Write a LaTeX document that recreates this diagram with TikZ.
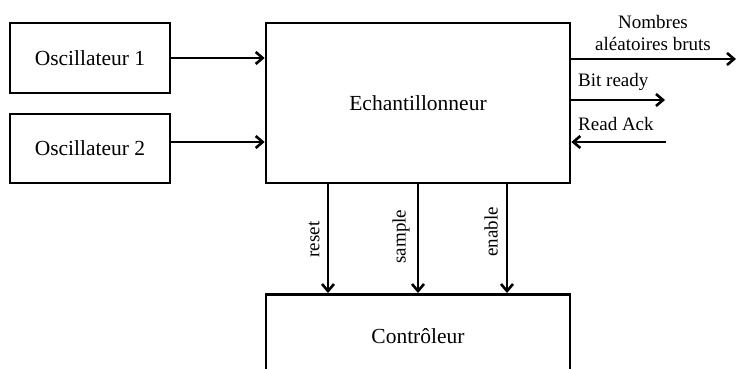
\documentclass[tikz,border=0pt]{standalone}
\usepackage{fontspec}
\setmainfont{Liberation Serif}
\usetikzlibrary{arrows.meta}
\begin{document}
\begin{tikzpicture}[x=1pt,y=-1pt,
  blk/.style={draw,line width=2.6pt,inner sep=0pt},
  conn/.style={line width=2.6pt,-{Straight Barb[length=7pt,width=12pt,line width=2.6pt]}},
  big/.style={font=\fontsize{21.5}{25}\selectfont},
  small/.style={font=\fontsize{19}{22}\selectfont,inner sep=0pt}]
\clip (0,0) rectangle (736,369);
\useasboundingbox (0,0) rectangle (736,369);
\fill[white] (0,0) rectangle (736,369);
\node[blk,big,minimum width=160pt,minimum height=70pt] (o1) at (90,58) {Oscillateur 1};
\node[blk,big,minimum width=160pt,minimum height=69pt] (o2) at (90,148.5) {Oscillateur 2};
\node[blk,big,minimum width=304pt,minimum height=160pt] (ech) at (418,103) {Echantillonneur};
\node[blk,big,minimum width=304pt,minimum height=120pt,anchor=north] (ctl) at (418,293) {};
\node[big] (ctltxt) at (418,336) {Contrôleur};
\coordinate (out1) at (736,59);
\coordinate (out2) at (665,100);
\coordinate (in3) at (666,142);
\draw[conn] (o1.east) -- (o1.east -| ech.west);
\draw[conn] (o2.east |- 0,142) -- (ech.west |- 0,142);
\draw[conn] (ech.east |- out1) -- (out1);
\draw[conn] (ech.east |- out2) -- (out2);
\draw[conn] (in3) -- (ech.east |- in3);
\foreach \xx/\nm in {328/reset,418/sample,507/enable}{
  \coordinate (s\nm) at (\xx,183);
  \coordinate (e\nm) at (\xx,293);
  \draw[conn] (s\nm) -- (e\nm);
}
\node[small,align=center] (lnb) at (653,33) {Nombres\\aléatoires bruts};
\node[small,anchor=west] (lbr) at (578,82) {Bit ready};
\node[small,anchor=west] (lra) at (578,124) {Read Ack};
\node[small,rotate=90] (lreset) at (314,239.5) {reset};
\node[small,rotate=90] (lsample) at (401,236.5) {sample};
\node[small,rotate=90] (lenable) at (491,232) {enable};
\end{tikzpicture}
\end{document}
